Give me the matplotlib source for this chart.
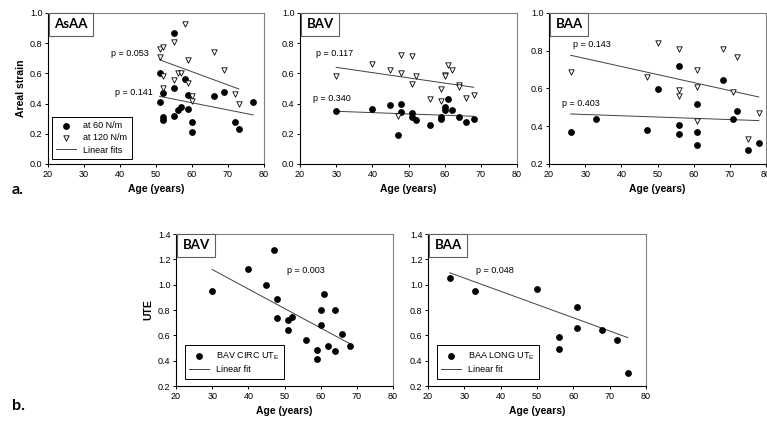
import numpy as np
import matplotlib.pyplot as plt
import matplotlib as mpl

mpl.rcParams.update({
    'font.family': ['Liberation Sans', 'DejaVu Sans'],
    'font.size': 6.5,
    'xtick.labelsize': 6.5,
    'ytick.labelsize': 6.5,
    'axes.linewidth': 0.8,
    'xtick.major.size': 2.5,
    'ytick.major.size': 2.5,
    'xtick.major.width': 0.7,
    'ytick.major.width': 0.7,
})

# ---- panel a: AsAA ------------------------------------------------------
asaa_age60 = [55, 51, 52, 51, 52, 52, 55, 55, 56, 57, 58, 59, 59, 60, 60, 66, 69, 72, 73, 77]
asaa_s60 = [0.87, 0.60, 0.47, 0.41, 0.31, 0.29, 0.50, 0.315, 0.36, 0.38, 0.56, 0.455,
            0.365, 0.28, 0.215, 0.45, 0.475, 0.275, 0.23, 0.41]
asaa_age120 = [58, 55, 51, 52, 51, 52, 55, 56, 57, 59, 59, 52, 60, 60, 66, 69, 72, 73]
asaa_s120 = [0.93, 0.81, 0.76, 0.775, 0.71, 0.585, 0.555, 0.605, 0.605, 0.69, 0.535,
             0.50, 0.45, 0.42, 0.745, 0.62, 0.465, 0.40]
asaa_fit60 = ([51, 77], [0.448, 0.325])
asaa_fit120 = ([51, 73], [0.69, 0.497])

# ---- panel a: BAV -------------------------------------------------------
bav_age60 = [30, 40, 45, 48, 48, 47, 51, 51, 52, 56, 59, 59, 60, 60, 61, 62, 64, 66, 68]
bav_s60 = [0.35, 0.365, 0.39, 0.40, 0.345, 0.195, 0.338, 0.31, 0.29, 0.255, 0.31, 0.295,
           0.38, 0.355, 0.43, 0.36, 0.31, 0.275, 0.30]
bav_age120 = [30, 40, 45, 48, 48, 51, 51, 52, 47, 56, 59, 59, 60, 60, 61, 62, 64, 64, 66, 68]
bav_s120 = [0.585, 0.66, 0.625, 0.72, 0.60, 0.715, 0.53, 0.58, 0.315, 0.43, 0.495, 0.415,
            0.59, 0.58, 0.655, 0.62, 0.525, 0.51, 0.435, 0.455]
bav_fit60 = ([30, 68], [0.349, 0.316])
bav_fit120 = ([30, 68], [0.64, 0.508])

# ---- panel a: BAA -------------------------------------------------------
baa_age60 = [26, 33, 47, 50, 56, 56, 56, 61, 61, 61, 68, 71, 72, 75, 78]
baa_s60 = [0.37, 0.44, 0.38, 0.597, 0.72, 0.408, 0.36, 0.52, 0.368, 0.299, 0.645,
           0.44, 0.483, 0.276, 0.31]
baa_age120 = [26, 47, 50, 56, 56, 56, 61, 61, 61, 68, 71, 72, 75, 78]
baa_s120 = [0.69, 0.66, 0.84, 0.81, 0.594, 0.562, 0.70, 0.606, 0.426, 0.81, 0.58,
            0.765, 0.33, 0.47]
baa_fit60 = ([26, 78], [0.465, 0.43])
baa_fit120 = ([26, 78], [0.776, 0.555])

# ---- panel b: UTE -------------------------------------------------------
bav_ute_age = [30, 40, 45, 47, 48, 48, 51, 51, 52, 56, 59, 59, 60, 60, 61, 62, 64, 64, 66, 68]
bav_ute = [0.95, 1.125, 0.996, 1.273, 0.89, 0.733, 0.72, 0.64, 0.746, 0.567, 0.482,
           0.416, 0.80, 0.68, 0.925, 0.516, 0.80, 0.474, 0.61, 0.516]
bav_ute_fit = ([30, 68], [1.12, 0.535])
baa_ute_age = [26, 33, 50, 56, 56, 61, 61, 68, 72, 75]
baa_ute = [1.05, 0.949, 0.962, 0.588, 0.49, 0.825, 0.659, 0.646, 0.561, 0.305]
baa_ute_fit = ([26, 75], [1.094, 0.582])

W, H = 767, 428
fig = plt.figure(figsize=(W / 100, H / 100), dpi=100)


def make_ax(x0, x1, ytop, ybot):
    ax = fig.add_axes([x0 / W, 1 - ybot / H, (x1 - x0) / W, (ybot - ytop) / H])
    for s in ('top', 'right'):
        ax.spines[s].set_color('#808080')
    ax.tick_params(top=False, right=False, direction='out', pad=1.5)
    ax.set_xlim(20, 80)
    ax.set_xticks(range(20, 81, 10))
    return ax


def tag(ax, name):
    ax.text(0.03, 0.965, name, transform=ax.transAxes, va='top', ha='left',
            fontsize=9.5, fontweight='bold', family=['Lato', 'DejaVu Sans'],
            bbox=dict(boxstyle='square,pad=0.4', fc='white', ec='#606060', lw=0.8))


def strain_panel(ax, a60, s60, a120, s120, f60, f120):
    ax.plot(*f120, color='#404040', lw=0.7)
    ax.plot(*f60, color='#404040', lw=0.7)
    ax.scatter(a60, s60, s=15, c='black', zorder=3, label='at 60 N/m')
    ax.scatter(a120, s120, s=15, marker='v', facecolors='white', edgecolors='black',
               linewidths=0.6, zorder=3, label='at 120 N/m')
    ax.set_xlabel('Age (years)', fontsize=7.5, fontweight='bold', labelpad=4)


ax1 = make_ax(48, 264, 13, 164)
strain_panel(ax1, asaa_age60, asaa_s60, asaa_age120, asaa_s120, asaa_fit60, asaa_fit120)
ax1.set_ylim(0, 1.0)
ax1.set_yticks(np.arange(0, 1.01, 0.2))
ax1.set_ylabel('Areal strain', fontsize=7.5, fontweight='bold', labelpad=3)
ax1.text(37.6, 0.735, 'p = 0.053', fontsize=6.5, va='center')
ax1.text(38.5, 0.475, 'p = 0.141', fontsize=6.5, va='center')
h, l = ax1.get_legend_handles_labels()
h.append(mpl.lines.Line2D([], [], color='#404040', lw=0.7))
l.append('Linear fits')
leg = ax1.legend(h, l, loc='lower left', bbox_to_anchor=(0.017, 0.033), fontsize=6.5,
                 fancybox=False, edgecolor='black', framealpha=1, borderpad=0.5,
                 handlelength=2.2, labelspacing=0.35, borderaxespad=0)
leg.get_frame().set_linewidth(0.7)
tag(ax1, 'AsAA')

ax2 = make_ax(300, 517, 13, 164)
strain_panel(ax2, bav_age60, bav_s60, bav_age120, bav_s120, bav_fit60, bav_fit120)
ax2.set_ylim(0, 1.0)
ax2.set_yticks(np.arange(0, 1.01, 0.2))
ax2.text(24.4, 0.735, 'p = 0.117', fontsize=6.5, va='center')
ax2.text(23.5, 0.437, 'p = 0.340', fontsize=6.5, va='center')
tag(ax2, 'BAV')

ax3 = make_ax(549, 766, 13, 164)
strain_panel(ax3, baa_age60, baa_s60, baa_age120, baa_s120, baa_fit60, baa_fit120)
ax3.set_ylim(0.2, 1.0)
ax3.set_yticks(np.arange(0.2, 1.01, 0.2))
ax3.text(26.5, 0.832, 'p = 0.143', fontsize=6.5, va='center')
ax3.text(23.7, 0.523, 'p = 0.403', fontsize=6.5, va='center')
tag(ax3, 'BAA')


def ute_panel(ax, age, ute, fit, lab, name, ptxt, pxy):
    ax.plot(*fit, color='#404040', lw=0.7, label='Linear fit')
    ax.scatter(age, ute, s=15, c='black', zorder=3, label=lab)
    ax.set_ylim(0.2, 1.4)
    ax.set_yticks(np.arange(0.2, 1.41, 0.2))
    ax.set_xlabel('Age (years)', fontsize=7.5, fontweight='bold', labelpad=4)
    ax.text(pxy[0], pxy[1], ptxt, fontsize=6.5, va='center')
    h, l = ax.get_legend_handles_labels()
    leg = ax.legend(h[::-1], l[::-1], loc='lower left', bbox_to_anchor=(0.04, 0.048),
                    fontsize=6.5, fancybox=False, edgecolor='black', framealpha=1,
                    borderpad=0.5, handlelength=2.2, labelspacing=0.35, borderaxespad=0)
    leg.get_frame().set_linewidth(0.7)
    tag(ax, name)


ax4 = make_ax(176, 393, 234, 386)
ute_panel(ax4, bav_ute_age, bav_ute, bav_ute_fit, 'BAV CIRC UT$_\\mathregular{E}$', 'BAV',
          'p = 0.003', (50.6, 1.115))
ax4.set_ylabel('UTE', fontsize=7.5, fontweight='bold', labelpad=3)

ax5 = make_ax(428, 646, 234, 386)
ute_panel(ax5, baa_ute_age, baa_ute, baa_ute_fit, 'BAA LONG UT$_\\mathregular{E}$', 'BAA',
          'p = 0.048', (33.3, 1.115))

fig.text(12 / W, 1 - 190 / H, 'a.', fontsize=11.5, fontweight='bold', va='center',
         family=['Lato', 'DejaVu Sans'])
fig.text(12 / W, 1 - 406 / H, 'b.', fontsize=11.5, fontweight='bold', va='center',
         family=['Lato', 'DejaVu Sans'])

fig.savefig('out.png', dpi=100)
